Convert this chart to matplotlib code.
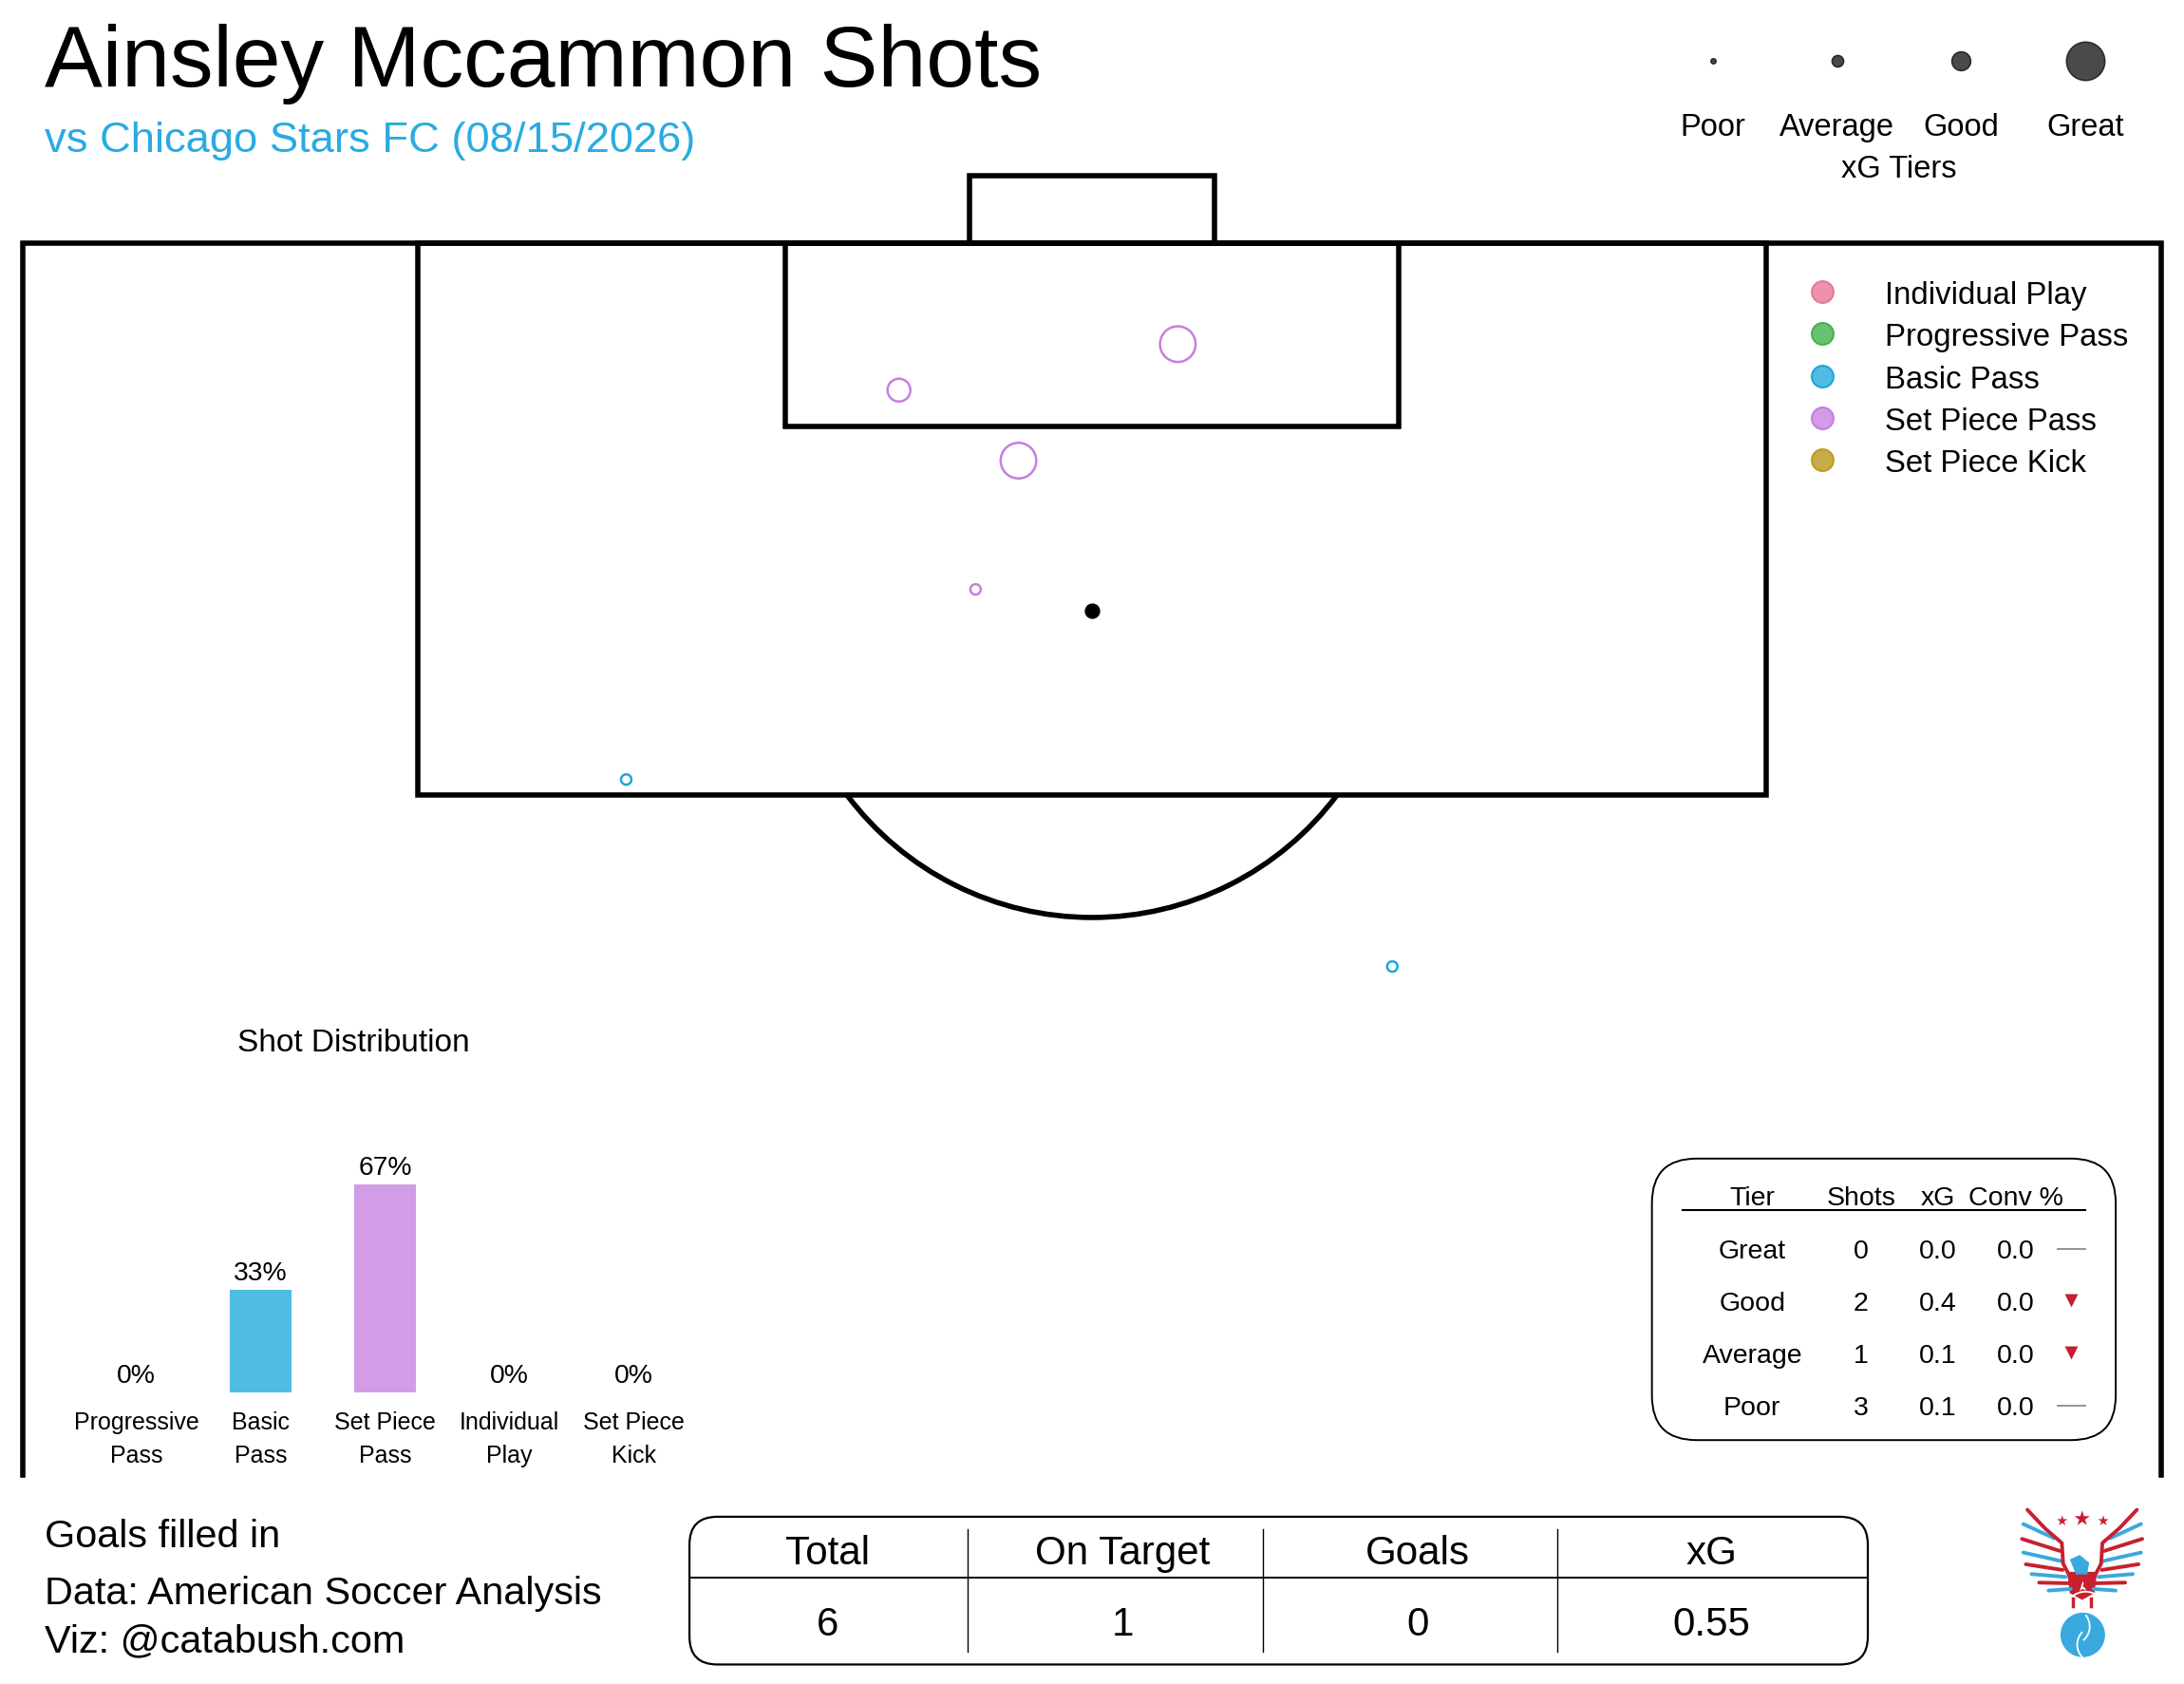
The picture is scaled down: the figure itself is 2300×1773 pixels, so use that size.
import matplotlib.pyplot as plt
import numpy as np
from matplotlib.patches import FancyBboxPatch, Rectangle, Arc, Circle, Polygon

plt.rcParams['font.family'] = ['Liberation Sans', 'DejaVu Sans']

# shots, in yards: x across from the goal centre, y out from the goal line
shot_x = [2.8, -6.3, -2.4, -3.8, -15.2, 9.8]
shot_y = [3.3, 4.8, 7.1, 11.3, 17.5, 23.6]
shot_type = ['Set Piece Pass', 'Set Piece Pass', 'Set Piece Pass',
             'Set Piece Pass', 'Basic Pass', 'Basic Pass']
shot_tier = ['Good', 'Average', 'Good', 'Poor', 'Poor', 'Poor']
shot_goal = [False, False, False, False, False, False]

tier_names = ['Poor', 'Average', 'Good', 'Great']

table_tiers = ['Great', 'Good', 'Average', 'Poor']
table_shots = [0, 2, 1, 3]
table_xg = [0.0, 0.4, 0.1, 0.1]
table_conv = [0.0, 0.0, 0.0, 0.0]
table_trend = ['flat', 'down', 'down', 'flat']

dist_types = ['Progressive Pass', 'Basic Pass', 'Set Piece Pass',
              'Individual Play', 'Set Piece Kick']
dist_labels = ['Progressive\nPass', 'Basic\nPass', 'Set Piece\nPass',
               'Individual\nPlay', 'Set Piece\nKick']
dist_pct = [0, 33, 67, 0, 0]

summary_labels = ['Total', 'On Target', 'Goals', 'xG']
summary_values = ['6', '1', '0', '0.55']

legend_types = ['Individual Play', 'Progressive Pass', 'Basic Pass',
                'Set Piece Pass', 'Set Piece Kick']

type_fill = {'Individual Play': '#eb93aa', 'Progressive Pass': '#68c270',
             'Basic Pass': '#4fbde3', 'Set Piece Pass': '#d29ce7',
             'Set Piece Kick': '#c9ab48'}
type_edge = {'Individual Play': '#e57b98', 'Progressive Pass': '#45b24e',
             'Basic Pass': '#1ea6dc', 'Set Piece Pass': '#c57fe0',
             'Set Piece Kick': '#c09b22'}
ring_size = {'Poor': 62, 'Average': 300, 'Good': 730, 'Great': 1500}
tier_legend_size = {'Poor': 14, 'Average': 75, 'Good': 200, 'Great': 840}

W, H = 1568, 1209  # layout units
PPY = 22.0         # layout units per yard
CX, GY = 784, 175  # goal centre / goal line in layout units

fig = plt.figure(figsize=(23, 17.74), dpi=100)

# ---- pitch ----
ax = fig.add_axes([0, 0, 1, 1])
ax.set_xlim((0 - CX) / PPY, (W - CX) / PPY)
ax.set_ylim((H - GY) / PPY, (0 - GY) / PPY)
ax.axis('off')

lw = 4
half_w = 34.9
ax.plot([-half_w, -half_w, half_w, half_w], [40.2, 0, 0, 40.2],
        color='black', lw=lw, solid_joinstyle='miter')
ax.add_patch(Rectangle((-22, 0), 44, 18, fill=False, lw=lw, ec='black'))
ax.add_patch(Rectangle((-10, 0), 20, 6, fill=False, lw=lw, ec='black'))
ax.add_patch(Rectangle((-4, -2.2), 8, 2.2, fill=False, lw=lw, ec='black'))
ax.add_patch(Arc((0, 12), 20, 20, theta1=36.87, theta2=143.13,
                 lw=lw, color='black'))
ax.scatter([0], [12], s=115, color='black', zorder=3)

for x, y, t, tier, goal in zip(shot_x, shot_y, shot_type, shot_tier, shot_goal):
    ax.scatter(x, y, s=ring_size[tier],
               facecolor=type_fill[t] if goal else 'none',
               edgecolor=type_edge[t], linewidth=1.8, zorder=4)

# ---- layout overlay ----
lay = fig.add_axes([0, 0, 1, 1])
lay.set_xlim(0, W)
lay.set_ylim(H, 0)
lay.patch.set_alpha(0)
lay.axis('off')

lay.text(32, 62, 'Ainsley Mccammon Shots', fontsize=65.7, va='baseline')
lay.text(32, 109, 'vs Chicago Stars FC (08/15/2026)', fontsize=32.7,
         color='#29abe2', va='baseline')

# xG tier size legend
tier_x = [1230, 1319, 1408, 1497]
for x, name in zip(tier_x, tier_names):
    lay.scatter(x, 44, s=tier_legend_size[name], facecolor='#4a4a4a',
                edgecolor='#2a2a2a', linewidth=1.2)
    lay.text(x, 97.5, name, fontsize=23.5, ha='center', va='baseline')
lay.text(1363, 127.5, 'xG Tiers', fontsize=23.5, ha='center', va='baseline')

# shot type legend
for i, t in enumerate(legend_types):
    y = 210 + 30.2 * i
    lay.scatter(1308, y, s=270, facecolor=type_fill[t],
                edgecolor=type_edge[t], linewidth=1.5)
    lay.text(1353, y, t, fontsize=23.7, va='center_baseline')

# tier table
lay.add_patch(FancyBboxPatch((1186, 832), 333, 202,
                             boxstyle='round,pad=0,rounding_size=32',
                             fc='white', ec='black', lw=1.4))
col_x = [1258, 1336, 1391, 1447]
for x, h in zip(col_x, ['Tier', 'Shots', 'xG', 'Conv %']):
    lay.text(x, 858, h, fontsize=20.5, ha='center', va='center_baseline')
lay.plot([1208, 1497], [869, 869], color='black', lw=1.5)
for i, tier in enumerate(table_tiers):
    y = 896 + 37.5 * i
    vals = [tier, f'{table_shots[i]}', f'{table_xg[i]:.1f}', f'{table_conv[i]:.1f}']
    for x, v in zip(col_x, vals):
        lay.text(x, y, v, fontsize=20.5, ha='center', va='center_baseline')
    if table_trend[i] == 'down':
        lay.scatter(1487, y, marker='v', s=100, color='#c41e30', linewidth=0)
    else:
        lay.plot([1477, 1497], [y + 1, y + 1], color='#8a8a8a', lw=1.3)

# summary table
lay.add_patch(FancyBboxPatch((495, 1089), 846, 106,
                             boxstyle='round,pad=0,rounding_size=20',
                             fc='white', ec='black', lw=1.6))
lay.plot([495, 1341], [1133, 1133], color='black', lw=1.4)
for x in [695, 907, 1118]:
    lay.plot([x, x], [1098, 1186], color='black', lw=1.0)
sum_x = [594, 806, 1018, 1229]
for x, lab, val in zip(sum_x, summary_labels, summary_values):
    lay.text(x, 1112, lab, fontsize=30.3, ha='center', va='center_baseline')
    lay.text(x, 1163, val, fontsize=30.3, ha='center', va='center_baseline')

# footer
lay.text(32, 1100, 'Goals filled in', fontsize=29.8, va='center_baseline')
lay.text(32, 1141, 'Data: American Soccer Analysis', fontsize=29.8, va='center_baseline')
lay.text(32, 1175, 'Viz: @catabush.com', fontsize=29.8, va='center_baseline')


# logo (rough eagle emblem), sketched on a small local grid
def lg(px, py):
    return (2110 + px / 3) / 1.4668, (1570 + py / 3) / 1.4668


red, blue = '#c8202f', '#39a9de'
mid = 248
stripes = [((62, 105), (160, 150), blue), ((58, 152), (178, 190), red),
           ((62, 195), (182, 222), blue), ((70, 232), (186, 250), red),
           ((88, 263), (196, 272), blue), ((112, 290), (205, 292), red),
           ((142, 315), (212, 310), blue)]
for side in (-1, 1):
    for (ox, oy), (ix, iy), c in stripes:
        a = lg(mid + side * (mid - ox), oy)
        b = lg(mid + side * (mid - ix), iy)
        lay.plot([a[0], b[0]], [a[1], b[1]], color=c, lw=2.8,
                 solid_capstyle='round')
    edge = [(75, 60), (130, 118), (184, 165), (188, 230), (215, 282), (240, 300)]
    pts = [lg(mid + side * (mid - ex), ey) for ex, ey in edge]
    lay.plot([p[0] for p in pts], [p[1] for p in pts], color=red, lw=2.8,
             solid_capstyle='round', solid_joinstyle='round')
body = [(203, 258), (293, 258), (285, 322), (248, 342), (211, 322)]
lay.add_patch(Polygon([lg(*p) for p in body], closed=True, color=red))
head = [(212, 218), (240, 205), (268, 228), (262, 262), (230, 262)]
lay.add_patch(Polygon([lg(*p) for p in head], closed=True, color=blue))
sx, sy = lg(248, 300)
lay.scatter([sx], [sy], marker='*', s=70, color='white', linewidth=0)
for tx in (220, 276):
    a = lg(tx, 340)
    b = lg(tx, 365)
    lay.plot([a[0], b[0]], [a[1], b[1]], color=red, lw=2.5)
st = [lg(185, 95), lg(248, 88), lg(315, 95)]
lay.scatter([p[0] for p in st], [p[1] for p in st], marker='*',
            s=[70, 150, 70], color=red, linewidth=0)
bcx, bcy = lg(250, 455)
lay.add_patch(Circle((bcx, bcy), 15.5, color=blue))
lay.add_patch(Arc((bcx - 8, bcy - 6), 26, 26, theta1=-40, theta2=50,
                  color='white', lw=1.3))
lay.add_patch(Arc((bcx + 9, bcy + 7), 26, 26, theta1=135, theta2=225,
                  color='white', lw=1.3))
lay.add_patch(Arc((bcx + 2, bcy - 16), 30, 30, theta1=230, theta2=310,
                  color='white', lw=1.3))

# ---- shot distribution bars ----
lay.text(254, 746, 'Shot Distribution', fontsize=24, ha='center',
         va='center_baseline')
bx = fig.add_axes([53.4 / W, 1 - 1000 / H, 446.2 / W, 223 / H])
bx.set_xlim(-0.5, 4.5)
bx.set_ylim(0, 100)
bx.axis('off')
pos = np.arange(len(dist_types))
bx.bar(pos, dist_pct, width=0.5, color=[type_fill[t] for t in dist_types])
for i, (p, lab) in enumerate(zip(dist_pct, dist_labels)):
    bx.annotate(f'{p}%', (i, p), xytext=(0, 15.5), textcoords='offset points',
                ha='center', va='center_baseline', fontsize=20.3,
                annotation_clip=False)
    for j, line in enumerate(lab.split('\n')):
        bx.annotate(line, (i, 0), xytext=(0, -20 - 25.3 * j),
                    textcoords='offset points', ha='center',
                    va='center_baseline', fontsize=18, annotation_clip=False)

fig.savefig('out.png', dpi=100, facecolor='white')
